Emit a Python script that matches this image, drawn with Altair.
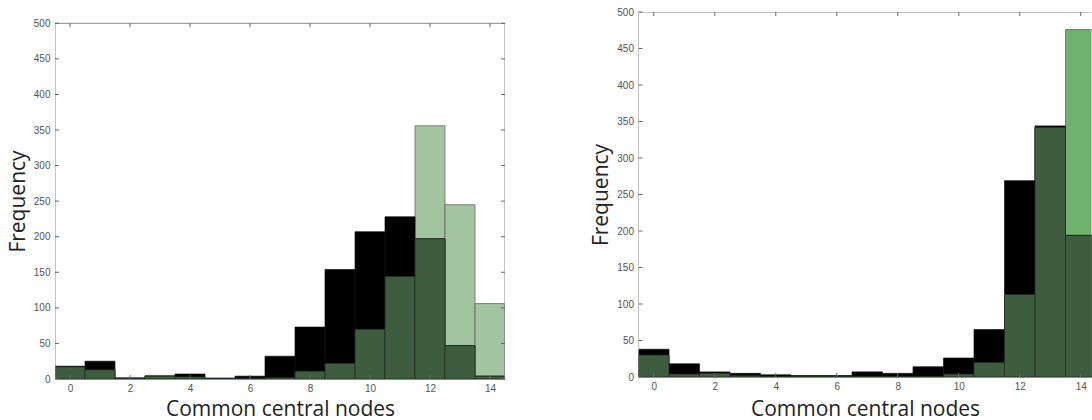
import altair as alt
import pandas as pd

# ---- data ----
bins = list(range(15))
left_black = [18, 25, 1, 4, 7, 1, 4, 32, 73, 154, 207, 228, 197, 47, 4]
left_green = [17, 13, 2, 5, 3, 1, 1, 2, 11, 22, 70, 144, 356, 245, 106]
right_black = [38, 18, 7, 5, 3, 2, 2, 7, 5, 14, 26, 65, 269, 344, 194]
right_green = [30, 4, 5, 2, 1, 1, 1, 1, 1, 1, 4, 20, 113, 342, 476]
x_ticks = [0, 2, 4, 6, 8, 10, 12, 14]
y_ticks = list(range(0, 501, 50))
x_title = "Common central nodes"
y_title = "Frequency"

X_LO, X_HI, Y_TOP = -0.5, 14.5, 500

TITLE_FONT = "Open Sans"
LABEL_FONT = "Liberation Sans"
FRAME = "#8a8a8a"
TICK = "#666666"


def panel(black, green, light, dark, width, height, x_max, y_max,
          ytitle_y, xtitle_y, right_edge):
    df = pd.DataFrame({"bin": bins, "black": black, "green": green})
    xs = alt.Scale(domain=[X_LO, x_max], nice=False, zero=False)
    ys = alt.Scale(domain=[0, y_max], nice=False, zero=True)

    x_axis = alt.Axis(values=x_ticks, title=x_title, grid=False, ticks=False,
                      tickSize=0, domain=True, domainColor=FRAME, domainWidth=1,
                      labelFont=LABEL_FONT, labelFontSize=10, labelColor="#555555",
                      labelBaseline="alphabetic", labelPadding=12.5,
                      titleFont=TITLE_FONT, titleFontSize=21, titleFontWeight="normal",
                      titleColor="#222222", titleY=xtitle_y, titleBaseline="alphabetic")
    y_axis = alt.Axis(values=y_ticks, title=y_title, grid=False, ticks=False,
                      tickSize=0, domain=False,
                      labelFont=LABEL_FONT, labelFontSize=10, labelColor="#555555",
                      labelPadding=5, labelBaseline="middle",
                      titleFont=TITLE_FONT, titleFontSize=21, titleFontWeight="normal",
                      titleColor="#222222", titleX=-31, titleY=ytitle_y,
                      titleBaseline="alphabetic", titleAngle=270)

    def X(field=None, datum=None):
        if field is not None:
            return alt.X(field, scale=xs, axis=x_axis, title=x_title)
        return alt.X(datum=datum, scale=xs, axis=x_axis, title=x_title)

    def Y(field=None, datum=None):
        if field is not None:
            return alt.Y(field, scale=ys, axis=y_axis, title=y_title)
        return alt.Y(datum=datum, scale=ys, axis=y_axis, title=y_title)

    base = alt.Chart(df).transform_calculate(
        lo="datum.bin - 0.5", hi="datum.bin + 0.5",
        both="min(datum.black, datum.green)")

    light_bars = base.mark_bar(color=light, stroke="#5a5a5a", strokeWidth=0.7,
                               clip=True).encode(
        x=X("lo:Q"), x2="hi:Q", y=Y("green:Q"), y2=alt.datum(0))
    black_bars = base.mark_bar(color="#000000", stroke="#111111", strokeWidth=0.7,
                               clip=True).encode(
        x=X("lo:Q"), x2="hi:Q", y=Y("black:Q"), y2=alt.datum(0))
    dark_bars = base.mark_bar(color=dark, stroke="#1e2a1e", strokeWidth=0.7,
                              clip=True).encode(
        x=X("lo:Q"), x2="hi:Q", y=Y("both:Q"), y2=alt.datum(0))

    # frame: top edge and left edge (plus right edge if visible)
    fx = [X_LO, X_LO]
    fx2 = [x_max, X_LO]
    fy = [Y_TOP, 0]
    fy2 = [Y_TOP, Y_TOP]
    if right_edge:
        fx.append(X_HI); fx2.append(X_HI); fy.append(0); fy2.append(Y_TOP)
    frame = alt.Chart(pd.DataFrame({"x": fx, "x2": fx2, "y": fy, "y2": fy2})).mark_rule(
        color=FRAME, strokeWidth=1, clip=True).encode(
        x=X("x:Q"), x2="x2:Q", y=Y("y:Q"), y2="y2:Q")

    xt = pd.DataFrame({"t": x_ticks})
    yt = pd.DataFrame({"t": y_ticks})
    bottom_ticks = alt.Chart(xt).mark_rule(color=TICK, strokeWidth=1, y2Offset=-4).encode(
        x=X("t:Q"), y=Y(datum=0), y2=alt.datum(0))
    top_ticks = alt.Chart(xt).mark_rule(color=TICK, strokeWidth=1, y2Offset=4).encode(
        x=X("t:Q"), y=Y(datum=Y_TOP), y2=alt.datum(Y_TOP))
    left_ticks = alt.Chart(yt).mark_rule(color=TICK, strokeWidth=1, x2Offset=4).encode(
        y=Y("t:Q"), x=X(datum=X_LO), x2=alt.datum(X_LO))
    layers = [light_bars, black_bars, dark_bars, frame, bottom_ticks, top_ticks, left_ticks]
    if right_edge:
        right_ticks = alt.Chart(yt).mark_rule(color=TICK, strokeWidth=1, x2Offset=-4).encode(
            y=Y("t:Q"), x=X(datum=X_HI), x2=alt.datum(X_HI))
        layers.append(right_ticks)

    return alt.layer(*layers).properties(width=width, height=height)


left = panel(left_black, left_green, "#a3c4a0", "#3e5c3e",
             width=450, height=367, x_max=X_HI, y_max=515.9,
             ytitle_y=189, xtitle_y=36, right_edge=True)
right = panel(right_black, right_green, "#6eb26e", "#3e5c3e",
              width=453, height=365, x_max=X_LO + 453 / 30.5, y_max=Y_TOP,
              ytitle_y=182.5, xtitle_y=38, right_edge=False)

chart = alt.hconcat(left, right, spacing=133.5, bounds="flush").properties(
    padding={"left": 7, "top": 7, "right": 0, "bottom": 2},
    background="white",
).configure_view(stroke=None)

chart.save("out.html", embed_options={"renderer": "svg", "actions": False})
